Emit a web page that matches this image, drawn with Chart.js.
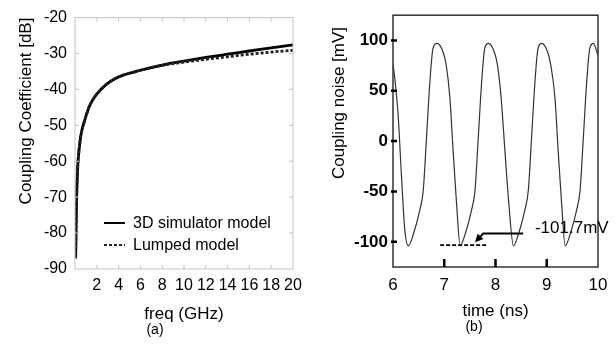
<!DOCTYPE html>
<html>
<head>
<meta charset="utf-8">
<script src="https://cdn.jsdelivr.net/npm/chart.js@4"></script>
<style>
  body { margin: 0; background: #fff; }
  #wrap { position: relative; width: 616px; height: 345px; overflow: hidden; font-family: "Liberation Sans", Arial, sans-serif; }
  canvas { position: absolute; top: 0; }
  .cap { position: absolute; font-size: 14px; color: #000; transform: translate(-50%, -50%); }
</style>
</head>
<body>
<div id="wrap">
  <canvas id="couplingChart" width="310" height="345" style="left:0"></canvas>
  <canvas id="noiseChart" width="306" height="345" style="left:310px"></canvas>
  <div class="cap" style="left:155px; top:329px">(a)</div>
  <div class="cap" style="left:474px; top:326px">(b)</div>
</div>
<script>
// (a) coupling coefficient vs frequency
const freqGHz = [0.06, 0.1, 0.15, 0.25, 0.35, 0.45, 0.6, 0.8, 1.05, 1.3, 1.65, 2.05, 2.8, 3.5, 4.35, 5.1, 5.85, 7, 8, 10, 12, 14, 16, 18, 20];
const coupling3D = [-87, -78, -70, -61.5, -57.5, -54.7, -51.8, -49.5, -47, -44.8, -42.8, -41.1, -38.8, -37.3, -36.1, -35.4, -34.8, -33.9, -33.2, -32.1, -31.1, -30.2, -29.3, -28.4, -27.6];
const couplingLumped = [-87, -78, -70, -61.5, -57.5, -54.7, -51.8, -49.5, -47, -44.8, -42.8, -41.1, -38.8, -37.3, -36.1, -35.4, -34.8, -33.9, -33.3, -32.4, -31.6, -30.9, -30.2, -29.6, -29.1];
const freqTicks = [2, 4, 6, 8, 10, 12, 14, 16, 18, 20];
const dbTicks = [-90, -80, -70, -60, -50, -40, -30, -20];

// (b) coupling noise vs time
const timeNs = [6.00, 6.05, 6.10, 6.17, 6.23, 6.30,
  6.40, 6.52, 6.59, 6.65, 6.72, 6.78, 6.86, 6.98, 7.04, 7.11, 7.17, 7.24, 7.31,
  7.41, 7.53, 7.60, 7.66, 7.73, 7.79, 7.86, 7.98, 8.04, 8.11, 8.18, 8.26, 8.35,
  8.45, 8.57, 8.64, 8.70, 8.77, 8.83, 8.90, 9.02, 9.08, 9.16, 9.22, 9.29, 9.36,
  9.46, 9.58, 9.65, 9.71, 9.78, 9.84, 9.91, 10.0];
const noiseMv = [77, 55, 26, -39, -88, -104,
  -92, -69, -49, 0, 59, 92, 97, 88, 75, 43, -7, -62, -104,
  -92, -69, -49, 0, 59, 92, 97, 88, 75, 43, -7, -62, -104,
  -92, -69, -49, 0, 59, 92, 97, 88, 75, 43, -7, -62, -104,
  -92, -69, -49, 0, 59, 92, 97, 85];
const timeTicks = [6, 7, 8, 9, 10];
const mvTicks = [-100, -50, 0, 50, 100];
const minLevel = { t0: 6.92, t1: 7.83, v: -103.3 };
const arrowPath = [[8.54, -91.8], [7.76, -91.8], [7.6, -100.5]];
const minLabel = { text: '-101.7mV', t: 8.77, v: -86.6 };

const FONT = '"Liberation Sans", Arial, sans-serif';

function toXY(xs, ys) {
    return xs.map((x, i) => ({ x: x, y: ys[i] }));
}

// marco y marcas pequeñas dentro del área
const boxPlugin = {
    id: 'box',
    afterDatasetsDraw(chart, args, opts) {
        const { ctx, chartArea: a, scales } = chart;
        ctx.save();
        ctx.strokeStyle = opts.frameColor;
        ctx.lineWidth = opts.frameWidth;
        ctx.strokeRect(a.left, a.top, a.right - a.left, a.bottom - a.top);
        ctx.strokeStyle = opts.tickColor;
        ctx.lineWidth = opts.tickWidth;
        ctx.beginPath();
        scales.x.ticks.forEach(t => {
            const px = scales.x.getPixelForValue(t.value);
            if (px <= a.left + 1 || px >= a.right - 1) return;
            if (opts.xBottom) { ctx.moveTo(px, a.bottom); ctx.lineTo(px, a.bottom - opts.xLen); }
            if (opts.xTop) { ctx.moveTo(px, a.top); ctx.lineTo(px, a.top + opts.xLen); }
        });
        scales.y.ticks.forEach(t => {
            const py = scales.y.getPixelForValue(t.value);
            if (py <= a.top + 1 || py >= a.bottom - 1) return;
            if (opts.yLeft) { ctx.moveTo(a.left - opts.yOut, py); ctx.lineTo(a.left + opts.yLen, py); }
            if (opts.yRight) { ctx.moveTo(a.right, py); ctx.lineTo(a.right - opts.yLen, py); }
        });
        ctx.stroke();
        ctx.restore();
    }
};

// leyenda dentro de la gráfica (a)
const innerLegend = {
    id: 'innerLegend',
    afterDraw(chart) {
        const { ctx } = chart;
        const rows = [[223, chart.data.datasets[1]], [245, chart.data.datasets[0]]];
        ctx.save();
        ctx.font = '16px ' + FONT;
        ctx.fillStyle = '#000';
        ctx.textBaseline = 'middle';
        rows.forEach(([y, ds]) => {
            ctx.strokeStyle = ds.borderColor;
            ctx.lineWidth = 2;
            ctx.setLineDash(ds.borderDash || []);
            ctx.beginPath();
            ctx.moveTo(104, y);
            ctx.lineTo(125, y);
            ctx.stroke();
            ctx.setLineDash([]);
            ctx.fillText(ds.label, 133, y + 1);
        });
        ctx.restore();
    }
};

// título vertical en posición fija
const sideTitle = {
    id: 'sideTitle',
    afterDraw(chart, args, opts) {
        if (!opts.text) return;
        const { ctx } = chart;
        ctx.save();
        ctx.translate(opts.x, opts.y);
        ctx.rotate(-Math.PI / 2);
        ctx.font = opts.font;
        ctx.fillStyle = '#000';
        ctx.textAlign = 'center';
        ctx.textBaseline = 'middle';
        ctx.fillText(opts.text, 0, 0);
        ctx.restore();
    }
};

// marcador del mínimo con flecha (b)
const minMarker = {
    id: 'minMarker',
    afterDatasetsDraw(chart) {
        if (chart.canvas.id !== 'noiseChart') return;
        const { ctx, scales: { x, y } } = chart;
        ctx.save();
        ctx.strokeStyle = '#000';
        ctx.lineWidth = 1.8;
        ctx.setLineDash([4, 2]);
        ctx.beginPath();
        ctx.moveTo(x.getPixelForValue(minLevel.t0), y.getPixelForValue(minLevel.v));
        ctx.lineTo(x.getPixelForValue(minLevel.t1), y.getPixelForValue(minLevel.v));
        ctx.stroke();
        ctx.setLineDash([]);

        const pts = arrowPath.map(p => [x.getPixelForValue(p[0]), y.getPixelForValue(p[1])]);
        ctx.lineWidth = 2;
        ctx.beginPath();
        ctx.moveTo(pts[0][0], pts[0][1]);
        for (let i = 1; i < pts.length - 1; i++) ctx.lineTo(pts[i][0], pts[i][1]);
        // stop shaft a bit before the tip
        const [px, py] = pts[pts.length - 2];
        const [ex, ey] = pts[pts.length - 1];
        const ang = Math.atan2(ey - py, ex - px);
        ctx.lineTo(ex - 5 * Math.cos(ang), ey - 5 * Math.sin(ang));
        ctx.stroke();
        ctx.fillStyle = '#000';
        ctx.beginPath();
        ctx.moveTo(ex, ey);
        ctx.lineTo(ex - 9 * Math.cos(ang - 0.45), ey - 9 * Math.sin(ang - 0.45));
        ctx.lineTo(ex - 9 * Math.cos(ang + 0.45), ey - 9 * Math.sin(ang + 0.45));
        ctx.closePath();
        ctx.fill();

        ctx.font = '17px ' + FONT;
        ctx.textBaseline = 'middle';
        ctx.fillText(minLabel.text, x.getPixelForValue(minLabel.t), y.getPixelForValue(minLabel.v));
        ctx.restore();
    }
};

Chart.defaults.font.family = FONT;
Chart.defaults.color = '#000';

// Gráfica (a)
new Chart(document.getElementById('couplingChart').getContext('2d'), {
    type: 'line',
    data: {
        datasets: [{
            label: 'Lumped model',
            data: toXY(freqGHz, couplingLumped),
            borderColor: '#222',
            borderWidth: 2.8,
            borderDash: [3, 2],
            pointRadius: 0,
            cubicInterpolationMode: 'monotone'
        }, {
            label: '3D simulator model',
            data: toXY(freqGHz, coupling3D),
            borderColor: '#000',
            borderWidth: 2.8,
            pointRadius: 0,
            cubicInterpolationMode: 'monotone'
        }]
    },
    options: {
        responsive: false,
        animation: false,
        layout: { padding: { left: 0, right: 17, top: 12, bottom: 20 } },
        plugins: {
            legend: { display: false },
            tooltip: { enabled: false },
            box: {
                frameColor: '#c4c4c4', frameWidth: 1, tickColor: '#c4c4c4', tickWidth: 1,
                xBottom: true, xTop: true, xLen: 4, yLeft: true, yRight: true, yLen: 4, yOut: 0
            }
        },
        scales: {
            x: {
                type: 'linear', min: 0, max: 20,
                afterBuildTicks: s => { s.ticks = freqTicks.map(v => ({ value: v })); },
                afterFit: s => { s.height = 56; },
                grid: { display: false, drawTicks: false },
                border: { display: false },
                ticks: { font: { size: 16 }, padding: 7, maxRotation: 0, autoSkip: false },
                title: { display: true, text: 'freq (GHz)', font: { size: 17 }, padding: 0 }
            },
            y: {
                type: 'linear', min: -90, max: -20,
                afterBuildTicks: s => { s.ticks = dbTicks.map(v => ({ value: v })); },
                afterFit: s => { s.width = 75; },
                grid: { display: false, drawTicks: false },
                border: { display: false },
                ticks: { font: { size: 16 }, padding: 8 },
                title: { display: true, text: 'Coupling Coefficient [dB]', align: 'end', font: { size: 17 }, padding: { top: 16, bottom: 0 } }
            }
        }
    },
    plugins: [boxPlugin, innerLegend]
});

// Gráfica (b)
new Chart(document.getElementById('noiseChart').getContext('2d'), {
    type: 'line',
    data: {
        datasets: [{
            label: 'Coupling noise',
            data: toXY(timeNs, noiseMv),
            borderColor: '#333',
            borderWidth: 1.2,
            pointRadius: 0,
            cubicInterpolationMode: 'monotone'
        }]
    },
    options: {
        responsive: false,
        animation: false,
        layout: { padding: { left: 0, right: 18, top: 13, bottom: 23 } },
        plugins: {
            legend: { display: false },
            tooltip: { enabled: false },
            box: {
                frameColor: '#333', frameWidth: 1.5, tickColor: '#000', tickWidth: 2.5,
                xBottom: true, xTop: false, xLen: 8, yLeft: true, yRight: false, yLen: 4, yOut: 2
            },
            sideTitle: { text: 'Coupling noise [mV]', x: 29, y: 103, font: '17px ' + FONT }
        },
        scales: {
            x: {
                type: 'linear', min: 6, max: 10,
                afterBuildTicks: s => { s.ticks = timeTicks.map(v => ({ value: v })); },
                afterFit: s => { s.height = 55; },
                grid: { display: false, drawTicks: false },
                border: { display: false },
                ticks: { font: { size: 17 }, padding: 8, maxRotation: 0, autoSkip: false },
                title: { display: true, text: 'time (ns)', font: { size: 17 }, padding: 0 }
            },
            y: {
                type: 'linear', min: -125, max: 125,
                afterBuildTicks: s => { s.ticks = mvTicks.map(v => ({ value: v })); },
                afterFit: s => { s.width = 83; },
                grid: { display: false, drawTicks: false },
                border: { display: false },
                ticks: { font: { size: 17, weight: 'bold' }, padding: 5 }
            }
        }
    },
    plugins: [boxPlugin, sideTitle, minMarker]
});
</script>
</body>
</html>
